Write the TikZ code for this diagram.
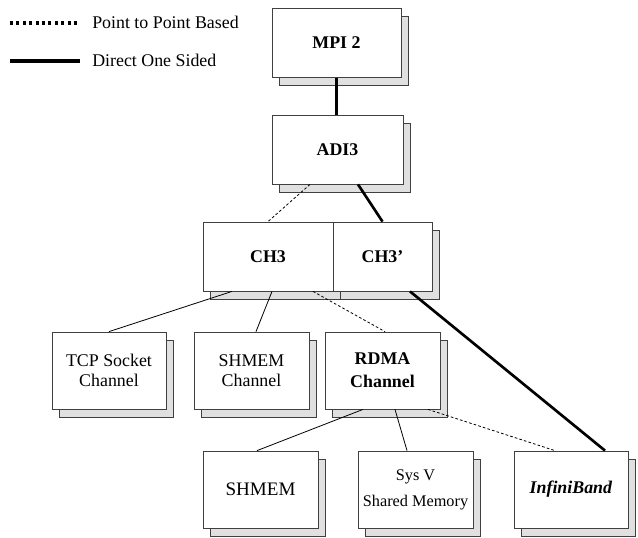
\documentclass[tikz,border=0pt]{standalone}
\usepackage{fontspec}
\setmainfont{Liberation Serif}
\usetikzlibrary{shadows,calc}
\tikzset{
  layer/.style={draw=black!75, fill=white, line width=0.6pt, inner sep=0pt,
    align=center, minimum width=86.25pt, minimum height=57.75pt,
    general shadow={draw=black!75, fill=black!12, line width=0.6pt,
      shadow xshift=5.25pt, shadow yshift=-6pt}},
  upper/.style={layer, minimum width=97.5pt, minimum height=51.75pt},
  p2p/.style={line width=0.6pt, dash pattern=on 2pt off 1.6pt},
  onesided/.style={line width=2pt},
  plain/.style={line width=0.6pt}
}
\begin{document}
\begin{tikzpicture}[x=0.75pt, y=-0.75pt,
    every node/.style={font=\fontsize{13.4}{14.5}\selectfont}]
  \path[use as bounding box, fill=white] (0,0) rectangle (638,537);

  % legend
  \coordinate (p2p a) at (10,23);
  \coordinate (p2p b) at (80,23);
  \coordinate (one a) at (10,61);
  \coordinate (one b) at (80,61);
  \draw[line width=2.4pt, dash pattern=on 2.3pt off 2.5pt] (p2p a) -- (p2p b);
  \draw[line width=2.6pt] (one a) -- (one b);
  \node[anchor=west, inner sep=0pt] (p2p text) at (92,22) {Point to Point Based};
  \node[anchor=west, inner sep=0pt] (one text) at (92,60) {Direct One Sided};

  % layers
  \node[upper, minimum width=96.75pt] (mpi) at (336.5,43) {\textbf{MPI 2}};
  \node[upper, minimum width=98.25pt] (adi) at (337.5,149.5) {\textbf{ADI3}};
  \node[upper] (ch3) at (268,256.5) {\textbf{CH3}};
  \node[upper, minimum width=74.25pt] (ch3p) at (382.5,256.5) {\textbf{CH3'}};

  % channels
  \node[layer, minimum width=85.5pt] (tcp) at (109,370.5) {TCP Socket\\Channel};
  \node[layer] (shmemch) at (251.5,370.5) {SHMEM\\Channel};
  \node[layer, font=\fontsize{13.4}{17}\selectfont] (rdma) at (382.5,370.5)
    {\textbf{RDMA}\\\textbf{Channel}};

  % rdma devices
  \node[layer, font=\fontsize{14.3}{16}\selectfont] (shmem) at (260.5,489.5) {SHMEM};
  \node[layer, font=\fontsize{12.2}{19.5}\selectfont] (sysv) at (415.5,489.5)
    {Sys V\\Shared Memory};
  \node[layer, minimum width=85.5pt] (ib) at (571,489.5) {\textbf{\textit{InfiniBand}}};

  % connections
  \draw[onesided] (mpi.south) -- (mpi.south|-adi.north);
  \draw[p2p] ($(adi.south)+(-27.5,0)$) -- (ch3.north);
  \draw[onesided] ($(adi.south)+(20.5,0)$) -- (ch3p.north);
  \draw[plain] ($(ch3.south)+(-36,0)$) -- (tcp.north);
  \draw[plain] ($(ch3.south)+(4,0)$) -- ($(shmemch.north)+(4.5,0)$);
  \draw[p2p] ($(ch3.south)+(45,0)$) -- ($(rdma.north)+(2.5,0)$);
  \draw[onesided] ($(ch3p.south)+(27.5,0)$) -- ($(ib.north)+(34,0)$);
  \draw[plain] ($(rdma.south)+(-19.5,0)$) -- ($(shmem.north)+(-3.5,0)$);
  \draw[plain] ($(rdma.south)+(12.5,0)$) -- ($(sysv.north)+(-8.5,0)$);
  \draw[p2p] ($(rdma.south)+(45.5,0)$) -- ($(ib.north)+(-16,0)$);
\end{tikzpicture}
\end{document}
